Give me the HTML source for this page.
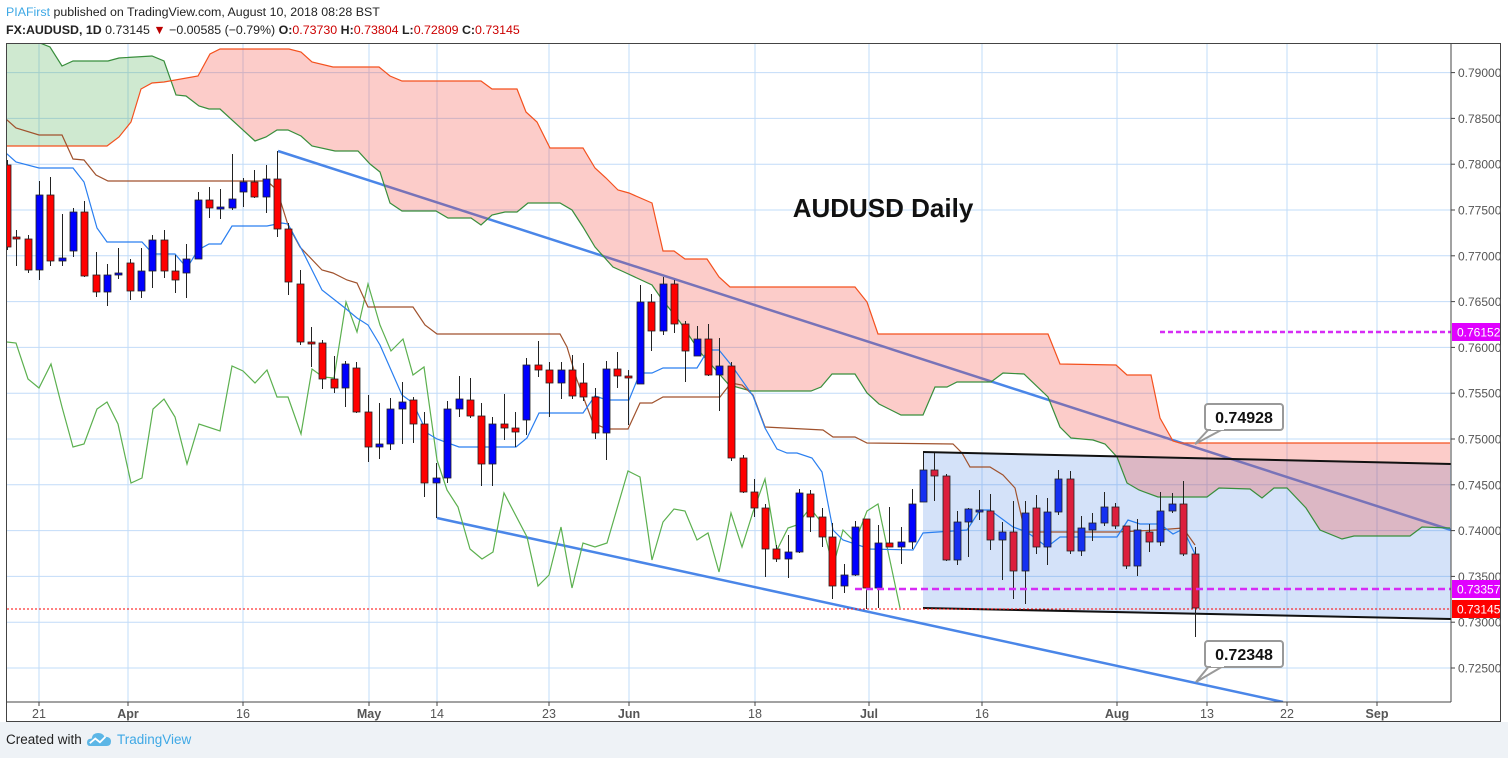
<!DOCTYPE html>
<html><head><meta charset="utf-8"><style>
html,body{margin:0;padding:0;background:#fff;width:1508px;height:758px;overflow:hidden;font-family:"Liberation Sans",sans-serif}
#hdr{position:absolute;left:6px;top:3px;font-size:12.4px;color:#222;line-height:18px;white-space:nowrap}
#ftr{position:absolute;left:0;top:722px;width:1508px;height:36px;background:#eef2f6}
</style></head><body>
<div id="hdr"><div><span style="color:#3ea8e5">PIAFirst</span> published on TradingView.com, August 10, 2018 08:28 BST</div>
<div><b>FX:AUDUSD, 1D</b> 0.73145 <span style="color:#b00">&#9660;</span> &minus;0.00585 (&minus;0.79%) <b>O:</b><span style="color:#c00">0.73730</span> <b>H:</b><span style="color:#c00">0.73804</span> <b>L:</b><span style="color:#c00">0.72809</span> <b>C:</b><span style="color:#c00">0.73145</span></div></div>
<div id="ftr"><span style="position:absolute;left:6px;top:10px;font-size:13.5px;color:#222">Created with</span>
<svg style="position:absolute;left:87px;top:9px" width="24" height="17" viewBox="0 0 26 18"><path d="M3 16 Q0 16 0 12 Q0 8 5 8 Q6 2 12 2 Q17 2 19 6 Q26 6 26 11 Q26 16 21 16 Z" fill="#5cb6e6"/><polyline points="3,13 9,8 14,12 20,6" fill="none" stroke="#fff" stroke-width="2"/></svg>
<span style="position:absolute;left:117px;top:10px;font-size:13.5px;color:#3ea8e5">TradingView</span></div>
<svg id="c" style="position:absolute;left:0;top:0" width="1508" height="758" xmlns="http://www.w3.org/2000/svg"></svg>
<script>
var S=document.getElementById('c'),h='';
function Y(p){return 439-(p-0.75)*9160;}
h+='<defs><clipPath id="pl"><rect x="7" y="44" width="1444" height="658"/></clipPath><clipPath id="gL"><rect x="0" y="0" width="170" height="758"/></clipPath><clipPath id="rR"><rect x="170" y="0" width="1400" height="758"/></clipPath></defs>';
h+='<rect x="6.5" y="43.5" width="1494" height="678" fill="#fff" stroke="#444"/>';
var xs=[[39,'21',0],[128,'Apr',1],[243,'16',0],[369,'May',1],[437,'14',0],[549,'23',0],[629,'Jun',1],[755,'18',0],[869,'Jul',1],[982,'16',0],[1117,'Aug',1],[1207,'13',0],[1287,'22',0],[1377,'Sep',1]];
xs.forEach(function(a){h+='<line x1="'+a[0]+'" y1="44" x2="'+a[0]+'" y2="702" stroke="#c2dcf8"/>';h+='<line x1="'+a[0]+'" y1="702" x2="'+a[0]+'" y2="706" stroke="#444"/>';h+='<text x="'+a[0]+'" y="718" text-anchor="middle" font-size="12.5" fill="#555"'+(a[2]?' font-weight="bold"':'')+'>'+a[1]+'</text>';});
for(var p=0.725;p<=0.7901;p+=0.005){var y=Y(p);h+='<line x1="7" y1="'+y+'" x2="1451" y2="'+y+'" stroke="#c2dcf8"/><line x1="1451" y1="'+y+'" x2="1455" y2="'+y+'" stroke="#444"/><text x="1458" y="'+(y+4.5)+'" font-size="12" fill="#555">'+p.toFixed(5)+'</text>';}
function pts(a){return a.map(function(q){return q[0]+','+q[1]}).join(' ');}
var A=[[6,43],[40,43],[50,47],[62,66],[73,61],[108,61],[119,58],[152,56],[164,61],[176,95],[186,96],[199,106],[209,109],[220,109],[255,141],[266,137],[277,130],[288,130],[301,136],[312,146],[335,151],[358,151],[370,164],[380,172],[390,203],[402,211],[436,211],[448,218],[471,218],[481,225],[492,215],[505,212],[517,212],[528,203],[560,203],[572,210],[583,227],[595,247],[613,267],[624,272],[652,285],[661,298],[680,322],[700,352],[729,385],[751,391],[811,391],[821,387],[832,374],[855,374],[867,393],[879,404],[901,415],[923,415],[935,387],[947,387],[957,382],[991,382],[1003,373],[1024,374],[1048,397],[1060,427],[1071,438],[1093,440],[1105,444],[1117,457],[1127,483],[1139,490],[1158,497],[1207,497],[1219,488],[1250,489],[1262,498],[1274,488],[1287,488],[1306,508],[1320,530],[1342,539],[1354,536],[1410,536],[1422,527],[1450,528]];
var B=[[6,146],[107,146],[119,137],[131,122],[141,89],[152,83],[164,82],[198,76],[210,54],[220,49],[289,49],[301,52],[312,62],[333,67],[379,67],[390,76],[402,81],[481,81],[492,89],[517,89],[526,112],[537,122],[550,148],[583,148],[595,168],[606,178],[618,190],[629,193],[652,203],[663,251],[674,251],[685,259],[707,259],[719,277],[730,287],[855,287],[867,302],[878,334],[1048,334],[1060,364],[1116,365],[1127,375],[1151,375],[1160,418],[1173,441],[1180,443],[1450,443]];
var cloud=pts(A)+' '+pts(B.slice().reverse());
h+='<g clip-path="url(#pl)">';
h+='<polygon points="923,452 1451,464 1451,619 923,608" fill="rgba(40,110,225,0.2)"/>';
h+='<line x1="278" y1="151" x2="1451" y2="530" stroke="#4a86e8" stroke-width="2.5"/>';
h+='<line x1="437" y1="518" x2="1283" y2="702" stroke="#4a86e8" stroke-width="2.5"/>';
h+='<polygon points="'+cloud+'" fill="rgba(76,175,80,0.27)" clip-path="url(#gL)"/>';
h+='<polygon points="'+cloud+'" fill="rgba(244,67,54,0.27)" clip-path="url(#rR)"/>';
h+='<polyline points="'+pts(A)+'" fill="none" stroke="#388e3c" stroke-width="1.2"/>';
h+='<polyline points="'+pts(B)+'" fill="none" stroke="#f4511e" stroke-width="1.2"/>';
var T=[[6,153],[16,162],[39,168],[73,168],[84,182],[97,228],[107,242],[142,242],[153,254],[175,254],[187,268],[198,250],[209,244],[221,244],[232,226],[267,226],[282,223],[288,224],[302,250],[322,290],[345,308],[357,318],[368,325],[380,345],[402,395],[413,403],[427,433],[437,439],[459,447],[516,447],[527,438],[539,413],[583,413],[595,396],[607,400],[629,400],[640,373],[652,373],[663,368],[697,368],[708,350],[719,350],[732,366],[753,396],[765,428],[777,449],[787,453],[797,453],[812,458],[822,472],[833,530],[843,540],[870,549],[913,550],[923,533],[967,530],[980,510],[990,510],[1013,527],[1027,532],[1047,547],[1060,537],[1117,537],[1128,520],[1140,524],[1160,524],[1173,534],[1183,529],[1195,554]];
var K=[[6,119],[16,128],[39,135],[62,135],[73,159],[84,160],[96,175],[108,181],[267,181],[277,190],[288,225],[300,247],[322,270],[333,273],[347,280],[357,283],[368,307],[413,307],[425,325],[437,334],[560,334],[567,347],[577,380],[593,423],[607,429],[628,429],[640,403],[652,403],[663,397],[720,397],[731,383],[742,385],[753,395],[765,427],[823,430],[833,437],[855,437],[867,443],[953,444],[962,453],[970,467],[990,467],[1003,475],[1015,488],[1025,532],[1117,532],[1157,530],[1183,528],[1195,545]];
var C=[[7,342],[16,343],[28,379],[39,388],[51,364],[62,407],[73,447],[84,444],[97,409],[107,402],[118,424],[131,483],[142,478],[153,409],[164,399],[175,417],[187,464],[199,424],[220,431],[232,366],[243,371],[255,383],[267,370],[277,397],[288,397],[301,434],[312,369],[323,377],[334,378],[346,302],[357,332],[368,284],[380,325],[391,351],[403,339],[413,375],[424,367],[437,460],[447,490],[458,507],[470,549],[482,559],[493,552],[504,493],[527,537],[538,586],[549,575],[561,527],[572,588],[583,543],[595,547],[607,543],[628,471],[640,477],[652,560],[663,522],[674,509],[685,511],[697,540],[708,533],[719,572],[731,513],[742,547],[753,512],[765,479],[777,550],[788,528],[797,525],[810,508],[822,523],[833,567],[843,530],[855,542],[867,511],[878,504],[900,608]];
h+='<polyline points="'+pts(C)+'" fill="none" stroke="#5cb04f" stroke-width="1.2"/>';
h+='<polyline points="'+pts(K)+'" fill="none" stroke="#a0522d" stroke-width="1.2"/>';
h+='<polyline points="'+pts(T)+'" fill="none" stroke="#2a7ff0" stroke-width="1.2"/>';
h+='<line x1="923" y1="452" x2="1451" y2="464" stroke="#111" stroke-width="2"/><line x1="923" y1="608" x2="1451" y2="619" stroke="#111" stroke-width="2"/>';
var D=[[7,165,247,160,250,'r'],[16,237,239,230,266,'r'],[28,239,270,235,273,'r'],[39,195,270,181,280,'b'],[50,195,261,177,266,'r'],[62,258,261,214,266,'b'],[73,212,251,208,257,'b'],[84,212,276,201,277,'r'],[96,275,292,252,297,'r'],[107,275,292,264,306,'b'],[118,273,275,248,279,'b'],[130,263,291,259,300,'r'],[141,271,291,248,298,'b'],[152,240,271,235,288,'b'],[164,240,271,230,278,'r'],[175,271,280,255,293,'r'],[186,259,273,244,298,'b'],[198,200,259,192,259,'b'],[209,200,208,187,218,'r'],[220,207,209,189,219,'b'],[232,199,208,154,210,'b'],[243,182,192,178,207,'b'],[254,182,197,170,198,'r'],[266,179,197,165,213,'b'],[277,179,229,151,237,'r'],[288,229,282,223,295,'r'],[300,284,342,270,345,'r'],[311,342,344,327,367,'r'],[322,343,379,340,389,'r'],[334,379,388,356,393,'r'],[345,364,388,361,407,'b'],[356,368,412,362,413,'r'],[368,412,447,395,462,'r'],[379,444,447,403,459,'b'],[390,409,444,398,450,'b'],[402,402,409,382,444,'b'],[413,400,424,397,443,'r'],[424,424,483,412,497,'r'],[436,478,483,463,518,'b'],[447,409,478,401,483,'b'],[459,399,409,376,417,'b'],[470,400,416,378,418,'r'],[481,416,464,403,486,'r'],[492,424,464,417,486,'b'],[504,424,428,394,440,'r'],[515,428,432,412,447,'r'],[526,365,420,358,435,'b'],[538,365,370,341,377,'r'],[549,370,383,362,417,'r'],[561,370,383,362,399,'b'],[572,370,396,355,399,'r'],[583,383,397,363,401,'r'],[595,397,433,388,439,'r'],[606,369,433,361,460,'b'],[617,369,376,352,388,'r'],[628,376,378,370,425,'r'],[640,302,384,285,384,'b'],[651,302,331,294,351,'r'],[663,284,331,277,335,'b'],[674,284,324,280,333,'r'],[685,324,351,321,382,'r'],[697,339,356,326,356,'b'],[708,339,375,324,376,'r'],[719,366,375,338,411,'b'],[731,366,458,362,461,'r'],[743,458,492,455,493,'r'],[754,492,508,479,517,'r'],[765,508,549,504,577,'r'],[776,549,559,545,562,'r'],[788,552,559,535,578,'b'],[799,493,552,489,553,'b'],[810,494,517,490,532,'r'],[822,517,537,508,547,'r'],[832,537,586,523,599,'r'],[844,575,586,564,593,'b'],[855,527,575,521,576,'b'],[866,519,588,519,609,'r'],[878,543,588,525,608,'b'],[889,543,547,507,547,'r'],[901,542,547,527,564,'b'],[912,504,542,489,549,'b'],[923,470,502,453,502,'b'],[934,470,476,453,501,'r'],[946,476,560,474,561,'r'],[957,522,560,511,565,'b'],[968,509,522,508,557,'b'],[979,510,512,490,520,'b'],[990,511,540,494,550,'r'],[1002,532,540,522,580,'b'],[1013,532,571,501,599,'r'],[1025,513,571,501,604,'b'],[1036,508,547,495,554,'r'],[1047,512,547,498,565,'b'],[1058,479,512,470,515,'b'],[1070,479,551,471,554,'r'],[1081,528,551,516,556,'b'],[1092,523,530,513,541,'b'],[1104,507,523,492,526,'b'],[1115,507,526,503,529,'r'],[1126,526,566,526,569,'r'],[1137,530,566,519,576,'b'],[1149,532,542,524,552,'r'],[1160,511,542,492,546,'b'],[1172,504,511,493,513,'b'],[1183,504,554,481,556,'r'],[1195,554,608,547,637,'r']];
D.forEach(function(d){var late=d[0]>915;var col=d[5]=='r'?(late?'#dc1f3c':'#ff0000'):(late?'#1530f0':'#0000ff');
h+='<line x1="'+d[0]+'.5" y1="'+d[3]+'" x2="'+d[0]+'.5" y2="'+d[4]+'" stroke="#222"/>';
h+='<rect x="'+(d[0]-3)+'" y="'+d[1]+'" width="7" height="'+Math.max(1.5,d[2]-d[1])+'" fill="'+col+'" stroke="#222" stroke-width="0.8"/>';});
h+='<line x1="7" y1="609" x2="1451" y2="609" stroke="#f00" stroke-dasharray="2,2"/>';
h+='<line x1="1160" y1="332" x2="1451" y2="332" stroke="#d62cf5" stroke-width="2.5" stroke-dasharray="5,3"/>';
h+='<line x1="855" y1="589" x2="1451" y2="589" stroke="#d62cf5" stroke-width="2.5" stroke-dasharray="7,4"/>';
h+='</g>';
h+='<line x1="7" y1="702" x2="1451" y2="702" stroke="#444"/><line x1="1451" y1="44" x2="1451" y2="702" stroke="#444"/>';
function lab(y,t,bg){h+='<rect x="1452" y="'+(y-9)+'" width="48" height="18" fill="'+bg+'"/><text x="1457" y="'+(y+4.5)+'" font-size="12" fill="#fff">'+t+'</text>';}
lab(332,'0.76152','#e000ff');lab(589,'0.73357','#e000ff');lab(609,'0.73145','#ff0000');
function call(y,t,px,py){h+='<polygon points="1210,'+(y+24)+' 1225,'+(y+24)+' '+px+','+py+'" fill="#fff" stroke="#999" stroke-width="2"/>';
h+='<rect x="1205" y="'+y+'" width="78" height="26" rx="3" fill="#fff" stroke="#999" stroke-width="2"/><rect x="1211" y="'+(y+20)+'" width="13" height="6" fill="#fff"/>';
h+='<text x="1244" y="'+(y+19)+'" text-anchor="middle" font-size="16" font-weight="bold" fill="#111">'+t+'</text>';}
call(404,'0.74928',1195,444);call(641,'0.72348',1196,682);
h+='<text x="883" y="217" text-anchor="middle" font-size="26" font-weight="bold" fill="#111">AUDUSD Daily</text>';
S.innerHTML=h;
</script>
</body></html>
